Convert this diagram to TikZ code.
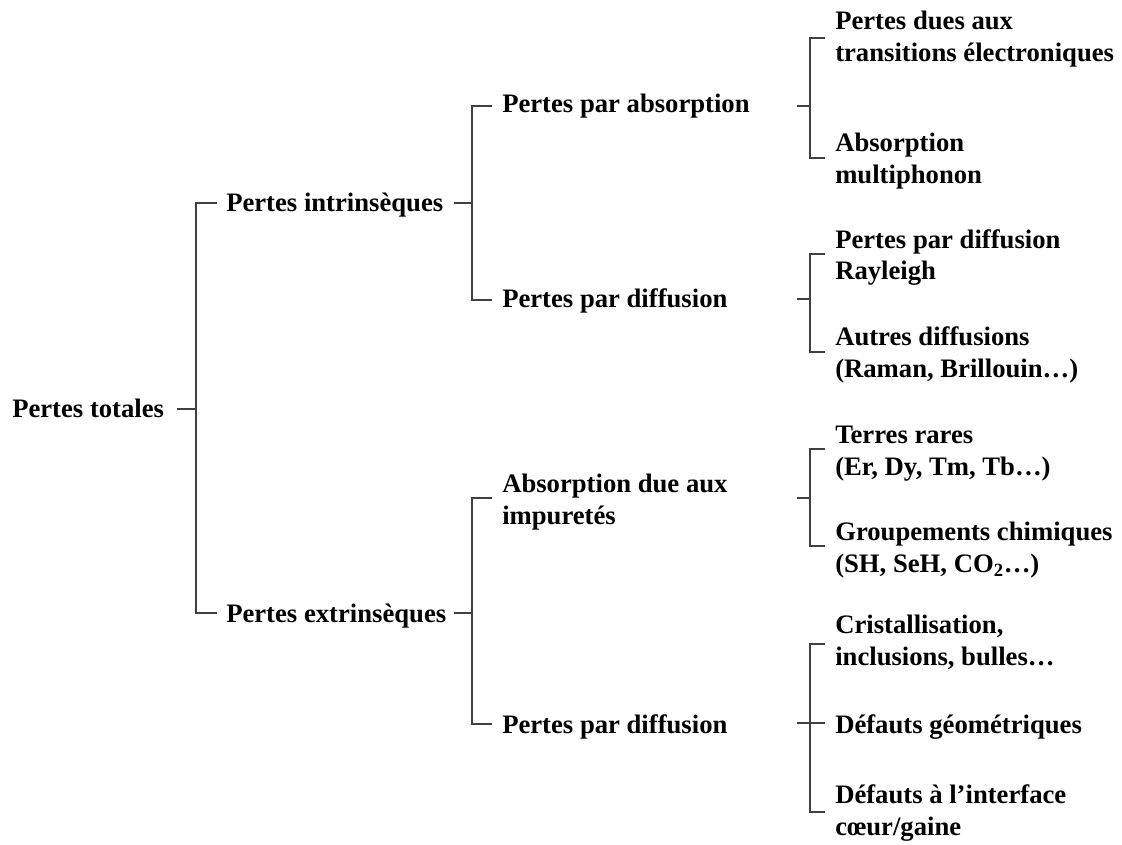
\documentclass[tikz,border=0pt]{standalone}
\usepackage{fontspec}
\setmainfont{Liberation Serif}[BoldFont={Liberation Serif Bold}]
\begin{document}
\begin{tikzpicture}[x=0.75pt,y=-0.75pt,
  lbl/.style={anchor=base west,inner sep=0pt,align=left,font=\fontsize{20}{24}\selectfont\bfseries},
  link/.style={draw=black!75,line width=0.8pt}]
\useasboundingbox (0,0) rectangle (1122,845);
% nodes (anchor = baseline of the last line)
\node[lbl] (root) at (12,417) {Pertes totales};
\node[lbl] (intr) at (226,212) {Pertes intrinsèques};
\node[lbl] (extr) at (226,622) {Pertes extrinsèques};
\node[lbl] (iabs) at (502,113) {Pertes par absorption};
\node[lbl] (idif) at (502,308) {Pertes par diffusion};
\node[lbl] (eabs) at (502,524) {Absorption due aux\\impuretés};
\node[lbl] (edif) at (502,733) {Pertes par diffusion};
\node[lbl] (l1) at (835,62) {Pertes dues aux\\transitions électroniques};
\node[lbl] (l2) at (835,184) {Absorption\\multiphonon};
\node[lbl] (l3) at (835,280) {Pertes par diffusion\\Rayleigh};
\node[lbl] (l4) at (835,377) {Autres diffusions\\(Raman, Brillouin…)};
\node[lbl] (l5) at (835,475) {Terres rares\\(Er, Dy, Tm, Tb…)};
\node[lbl] (l6) at (835,572) {Groupements chimiques\\(SH, SeH, CO\textsubscript{2}…)};
\node[lbl] (l7) at (835,665) {Cristallisation,\\inclusions, bulles…};
\node[lbl] (l8) at (835,733) {Défauts géométriques};
\node[lbl] (l9) at (835,835) {Défauts à l’interface\\cœur/gaine};
% bracket coordinates
\coordinate (s0) at (177,409); \coordinate (j0) at (196,409);
\coordinate (t0a) at (217,203); \coordinate (t0b) at (217,613);
\coordinate (s1) at (454,203); \coordinate (j1) at (472,203);
\coordinate (t1a) at (492,106); \coordinate (t1b) at (492,300);
\coordinate (s2) at (454,613); \coordinate (j2) at (472,613);
\coordinate (t2a) at (492,498); \coordinate (t2b) at (492,724);
\coordinate (s3) at (797,106); \coordinate (j3) at (810,106);
\coordinate (t3a) at (825,38); \coordinate (t3b) at (825,158);
\coordinate (s4) at (797,299); \coordinate (j4) at (810,299);
\coordinate (t4a) at (825,254); \coordinate (t4b) at (825,352);
\coordinate (s5) at (797,498); \coordinate (j5) at (810,498);
\coordinate (t5a) at (825,449); \coordinate (t5b) at (825,546);
\coordinate (s6) at (797,723); \coordinate (j6) at (810,723);
\coordinate (t6a) at (825,644); \coordinate (t6m) at (825,723); \coordinate (t6b) at (825,812);
% connectors
\path[link] (s0) -- (j0) (t0a) -| (j0) |- (t0b);
\path[link] (s1) -- (j1) (t1a) -| (j1) |- (t1b);
\path[link] (s2) -- (j2) (t2a) -| (j2) |- (t2b);
\path[link] (s3) -- (j3) (t3a) -| (j3) |- (t3b);
\path[link] (s4) -- (j4) (t4a) -| (j4) |- (t4b);
\path[link] (s5) -- (j5) (t5a) -| (j5) |- (t5b);
\path[link] (s6) -- (t6m) (t6a) -| (j6) |- (t6b);
\end{tikzpicture}
\end{document}
